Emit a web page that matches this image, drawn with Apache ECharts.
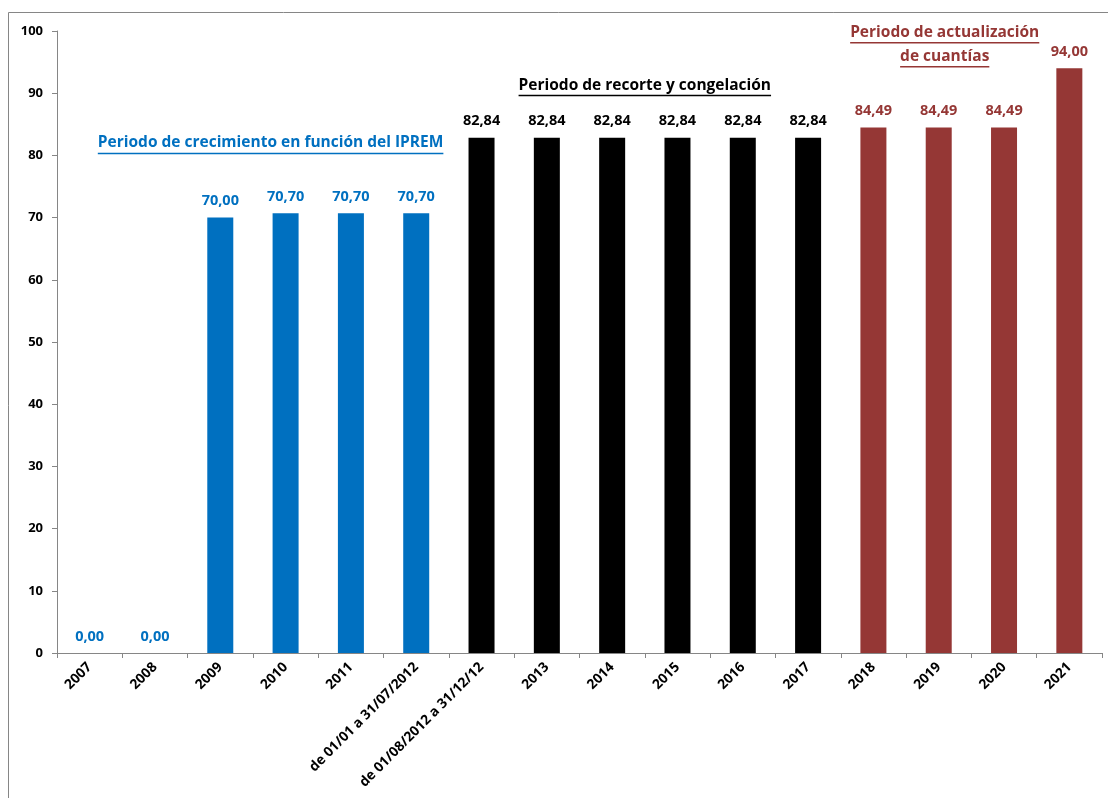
<!DOCTYPE html>
<html><head><meta charset="utf-8">
<script src="https://cdn.jsdelivr.net/npm/echarts@6/dist/echarts.min.js"></script>
<style>html,body{margin:0;padding:0;background:#fff}#c{width:1108px;height:798px}</style>
</head><body><div id="c"></div>
<script>
const categories = ['2007','2008','2009','2010','2011','de 01/01 a 31/07/2012','de 01/08/2012 a 31/12/12','2013','2014','2015','2016','2017','2018','2019','2020','2021'];
const values = [0,0,70.00,70.70,70.70,70.70,82.84,82.84,82.84,82.84,82.84,82.84,84.49,84.49,84.49,94.00];
const groups = ['c','c','c','c','c','c','r','r','r','r','r','r','a','a','a','a'];
const yTicks = [0,10,20,30,40,50,60,70,80,90,100];
const groupColors = {c:'#0070C0', r:'#000000', a:'#953735'};
const FONT = '"Open Sans", "Noto Sans", sans-serif';

const chart = echarts.init(document.getElementById('c'));
const data = values.map((v,i)=>({
  value:v,
  itemStyle:{color:groupColors[groups[i]]},
  label:{color:groupColors[groups[i]]}
}));

chart.setOption({
  animation:false,
  grid:{left:57, right:6, top:31, bottom:145, containLabel:false},
  xAxis:{type:'category', data:categories,
    axisLine:{lineStyle:{color:'#868686'}},
    axisTick:{show:true, alignWithLabel:false, length:5, lineStyle:{color:'#868686'}},
    axisLabel:{rotate:45, interval:0, color:'#000', fontFamily:FONT, fontWeight:'bold', fontSize:13.8, margin:12}
  },
  yAxis:{type:'value', min:0, max:100, interval:10,
    axisLine:{show:true, lineStyle:{color:'#868686'}},
    axisTick:{show:true, length:5, lineStyle:{color:'#868686'}},
    splitLine:{show:false},
    axisLabel:{color:'#000', fontFamily:FONT, fontWeight:'bold', fontSize:13, margin:14,
      formatter:v=>yTicks.includes(v)?String(v):''}
  },
  series:[{type:'bar', data:data, barWidth:26,
    label:{show:true, position:'top', distance:9, fontFamily:FONT, fontWeight:'bold', fontSize:14.5,
      formatter:p=>p.value.toFixed(2).replace('.',',')}
  }]
});

function addAnnotations(){
  const items = [];
  const specs = [
    {lines:['Periodo de crecimiento en función del IPREM'], fromCat:3, toCat:3, xShift:-15, yVal:82, color:'#0070C0'},
    {lines:['Periodo de recorte y congelación'], fromCat:8, toCat:9, xShift:0, yVal:91.3, color:'#000000'},
    {lines:['Periodo de actualización','de cuantías'], fromCat:13, toCat:13, xShift:6, yVal:99.8, color:'#953735'}
  ];
  const F = 'bold 15.5px '+FONT;
  const ctx = document.createElement('canvas').getContext('2d');
  ctx.font = F;
  specs.forEach(s=>{
    const p1 = chart.convertToPixel({xAxisIndex:0, yAxisIndex:0},[s.fromCat, s.yVal]);
    const p2 = chart.convertToPixel({xAxisIndex:0, yAxisIndex:0},[s.toCat, s.yVal]);
    const cx = (p1[0]+p2[0])/2 + s.xShift;
    const y = p1[1];
    s.lines.forEach((t,k)=>{
      const yy = y + k*24;
      items.push({type:'text', style:{text:t, x:cx, y:yy, fill:s.color, font:F, align:'center', verticalAlign:'middle'}});
      const tw = ctx.measureText(t).width;
      items.push({type:'line', shape:{x1:cx-tw/2, y1:yy+10.5, x2:cx+tw/2, y2:yy+10.5}, style:{stroke:s.color, lineWidth:1.5}});
    });
  });
  items.push({type:'rect', shape:{x:8.5, y:12.5, width:1200, height:900}, style:{fill:'none', stroke:'#868686', lineWidth:1}, silent:true});
  chart.setOption({graphic:items});
}
addAnnotations();
</script></body></html>
